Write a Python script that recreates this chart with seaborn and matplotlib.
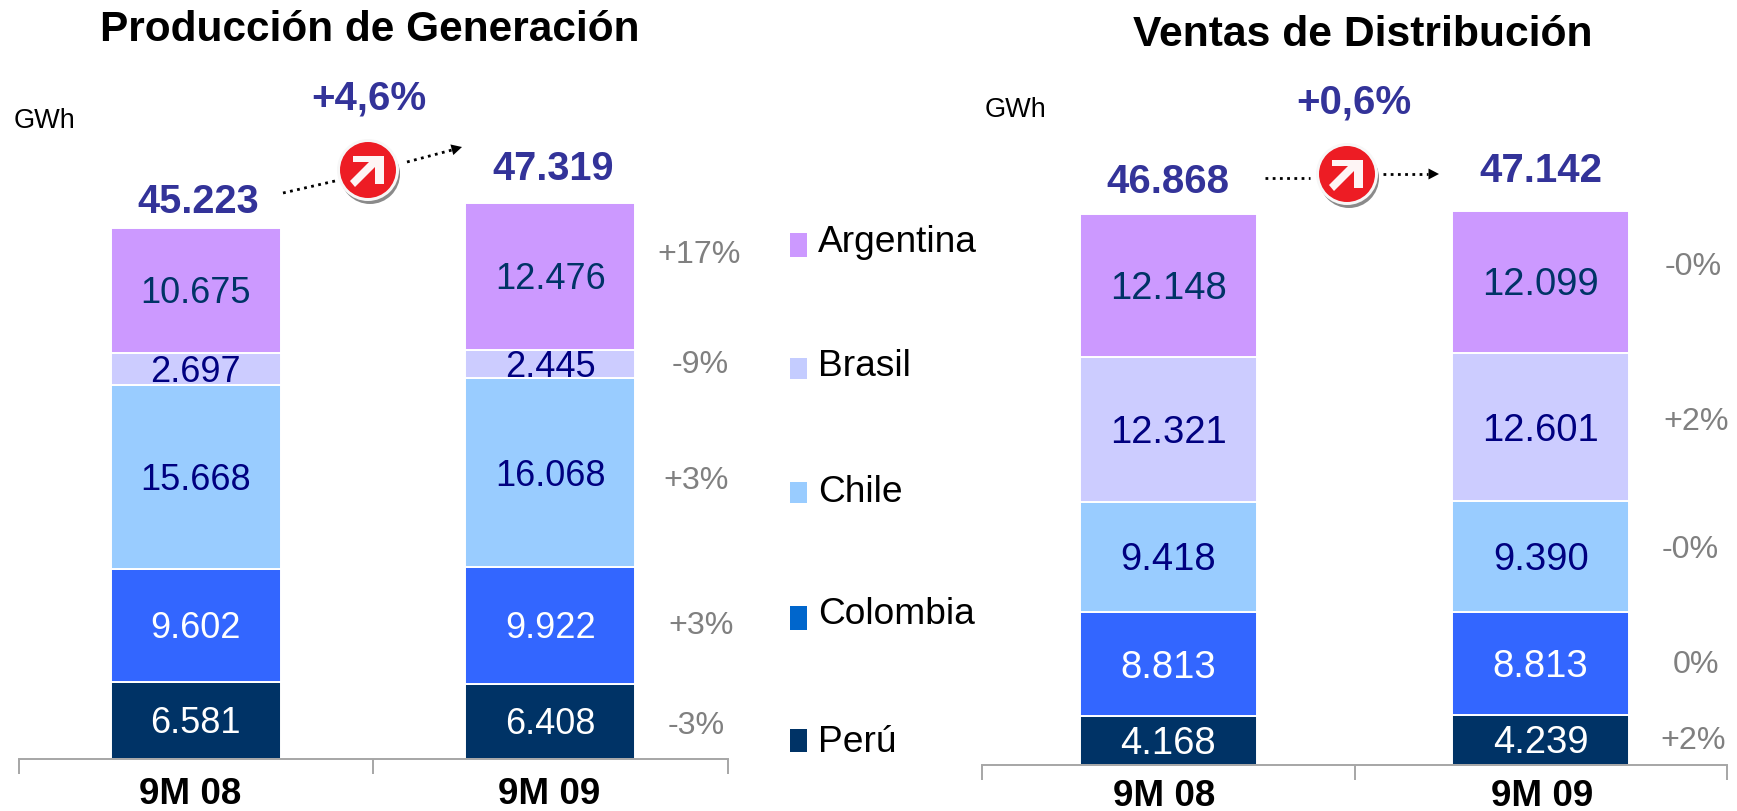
import numpy as np
import matplotlib
matplotlib.use("Agg")
import matplotlib.pyplot as plt
from matplotlib.patches import Circle, Polygon, Rectangle
import seaborn as sns

sns.set_theme(style="white")
plt.rcParams['font.family'] = ['Liberation Sans', 'DejaVu Sans']

W, H = 1737, 811
periods = ["9M 08", "9M 09"]
countries = ["Perú", "Colombia", "Chile", "Brasil", "Argentina"]
bar_colors = ["#003366", "#3366FF", "#99CCFF", "#CCCCFF", "#CC99FF"]
legend_colors = ["#003366", "#0066CC", "#99CCFF", "#C4CCFF", "#CC99FF"]
label_colors = ["white", "white", "#000080", "#000080", "#003366"]

gen_08 = [6581, 9602, 15668, 2697, 10675]
gen_09 = [6408, 9922, 16068, 2445, 12476]
gen_tot = ["45.223", "47.319"]
gen_pct = ["-3%", "+3%", "+3%", "-9%", "+17%"]
dis_08 = [4168, 8813, 9418, 12321, 12148]
dis_09 = [4239, 8813, 9390, 12601, 12099]
dis_tot = ["46.868", "47.142"]
dis_pct = ["+2%", "0%", "-0%", "+2%", "-0%"]


def fmt(v):
    return f"{v:,}".replace(",", ".")


def px(x, y):
    return x / W, 1 - y / H


fig = plt.figure(figsize=(W / 100, H / 100), dpi=100)
fig.patch.set_facecolor("white")


def chart(rect, v08, v09, width, fs):
    x0, x1, ytop, ybase, ymax = rect
    ax = fig.add_axes([x0 / W, 1 - ybase / H, (x1 - x0) / W, (ybase - ytop) / H])
    bottoms = np.zeros(2)
    for i, c in enumerate(countries):
        vals = np.array([v08[i], v09[i]])
        sns.barplot(x=periods, y=vals, bottom=bottoms, color=bar_colors[i], saturation=1,
                    width=width, edgecolor="white", linewidth=1.4, ax=ax, zorder=2)
        for k in range(2):
            ax.text(k, bottoms[k] + vals[k] / 2 + 60, fmt(int(vals[k])), ha="center", va="center_baseline",
                    fontsize=fs, color=label_colors[i], zorder=3)
        bottoms = bottoms + vals
    ax.set_xlim(-0.5, 1.5)
    ax.set_ylim(0, ymax)
    ax.set_ylabel("")
    ax.set_yticks([])
    for s in ["top", "left", "right"]:
        ax.spines[s].set_visible(False)
    ax.spines["bottom"].set_color("#A6A6A6")
    ax.spines["bottom"].set_linewidth(1.4)
    ax.set_xticks([-0.5, 0.5, 1.5])
    ax.set_xticklabels([])
    ax.tick_params(axis="x", length=10.8, width=1.4, color="#A6A6A6", bottom=True, direction="out")
    ax.patch.set_alpha(0)
    return ax


scale = 1 / 0.01175
chart((18.5, 727.5, 100, 759, (759 - 100) * scale), gen_08, gen_09, 0.48, 26)
chart((982, 1727, 100, 765, (765 - 100) * scale), dis_08, dis_09, 0.475, 27.5)


def txt(x, y, s, **kw):
    fig.text(*px(x, y), s, ha=kw.pop("ha", "center"), va=kw.pop("va", "center"), **kw)


# Titles, units
txt(370, 30, "Producción de Generación", fontsize=30.5, fontweight="bold", color="black")
txt(1363, 35, "Ventas de Distribución", fontsize=30.7, fontweight="bold", color="black")
txt(14, 121, "GWh", fontsize=19.5, color="black", ha="left")
txt(985, 110, "GWh", fontsize=19.5, color="black", ha="left")

# Category labels
for x, y, s in [(190, 794, periods[0]), (549, 794, periods[1]), (1164, 796, periods[0]), (1542, 796, periods[1])]:
    txt(x, y, s, fontsize=26.5, fontweight="bold", color="black")

# Totals and growth
navy = "#333399"
txt(198, 202, gen_tot[0], fontsize=28.5, fontweight="bold", color=navy)
txt(553, 169, gen_tot[1], fontsize=28.5, fontweight="bold", color=navy)
txt(1168, 182, dis_tot[0], fontsize=29, fontweight="bold", color=navy)
txt(1541, 171, dis_tot[1], fontsize=29, fontweight="bold", color=navy)
txt(369, 99, "+4,6%", fontsize=29, fontweight="bold", color=navy)
txt(1354, 103, "+0,6%", fontsize=29, fontweight="bold", color=navy)

# Percent changes
gray = "#808080"
for (x, y), s in zip([(696, 726), (701, 626), (696, 481), (700, 365), (699, 255)], gen_pct):
    txt(x, y, s, fontsize=23.2, color=gray)
for (x, y), s in zip([(1693, 741), (1696, 665), (1690, 550), (1696, 422), (1693, 267)], dis_pct):
    txt(x, y, s, fontsize=23.2, color=gray)

# Legend
for (ly, h, ty), c, col in zip([(740, 23, 742), (618, 24, 615), (493, 21, 493), (368, 21, 367), (245, 24, 243)],
                               countries, legend_colors):
    fig.add_artist(Rectangle(px(790, ly + h / 2), 17 / W, h / H, transform=fig.transFigure,
                             facecolor=col, edgecolor="none"))
    txt(818, ty, c, fontsize=26.7, color="black", ha="left")


def dotted(x0, y0, x1, y1):
    fig.add_artist(plt.Line2D(*zip(px(x0, y0), px(x1, y1)), transform=fig.transFigure,
                              color="black", linewidth=2, linestyle=(0, (1, 1.6))))


def head(x0, y0, x1, y1):
    d = np.array([x1 - x0, y1 - y0], float)
    d /= np.hypot(*d)
    n = np.array([-d[1], d[0]])
    tip = np.array([x1, y1], float)
    pts = [tip, tip - 10.5 * d + 5.5 * n, tip - 10.5 * d - 5.5 * n]
    fig.add_artist(Polygon([px(*p) for p in pts], transform=fig.transFigure,
                           facecolor="black", edgecolor="none"))


def badge(cx, cy):
    ax = fig.add_axes([(cx - 34) / W, 1 - (cy + 34) / H, 68 / W, 68 / H])
    ax.set_xlim(-34, 34)
    ax.set_ylim(34, -34)
    ax.axis("off")
    ax.add_patch(Circle((2, 4), 30, facecolor="#8A8A8A", edgecolor="none"))
    ax.add_patch(Circle((0, 0), 31, facecolor="#F7F7F7", edgecolor="none"))
    ax.add_patch(Circle((0, 0), 28, facecolor="#ED1C24", edgecolor="none"))
    ax.add_patch(Polygon([(-15, -14), (16, -14), (16, 14), (7, 14), (7, -3), (-13, 17), (-18, 11), (1, -8), (-15, -8)],
                         facecolor="white", edgecolor="none", alpha=0.96))


dotted(283, 193, 335, 181)
dotted(407, 162, 452, 150)
head(407, 162, 462, 147)
badge(368, 170)
dotted(1265, 178, 1310, 178)
dotted(1383, 174, 1428, 174)
head(1383, 174, 1439, 174)
badge(1347, 174)

fig.savefig("out.png", dpi=100)
